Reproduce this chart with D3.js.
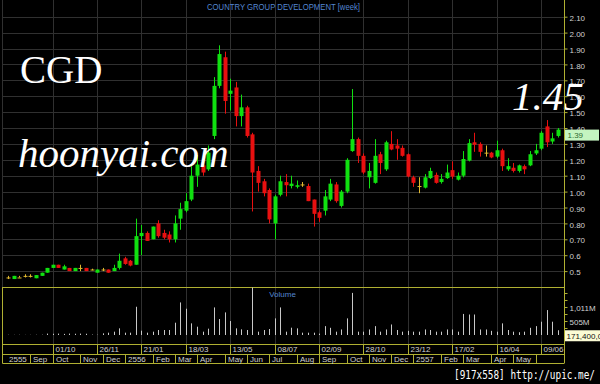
<!DOCTYPE html>
<html><head><meta charset="utf-8">
<script src="https://cdn.jsdelivr.net/npm/d3@7"></script>
<style>html,body{margin:0;padding:0;background:#000;}svg{display:block;}</style>
</head><body>
<svg id="chart" width="600" height="384"></svg>
<script>
// ---------- DATA ----------
const title = "COUNTRY GROUP DEVELOPMENT [week]";
const weekCount = 100; // weekly bars, Aug 2012 .. Jun 2014
const openP = [
 0.46,0.45,0.46,0.47,0.47,0.455,0.47,0.49,0.52,0.54,
 0.51,0.52,0.50,0.52,0.52,0.51,0.49,0.51,0.51,0.50,
 0.52,0.58,0.565,0.54,0.72,0.74,0.70,0.80,0.74,0.73,
 0.70,0.83,0.88,0.95,1.10,1.165,1.14,1.35,1.665,1.845,
 1.615,1.655,1.475,1.53,1.36,1.13,1.065,1.01,0.80,0.98,
 1.06,1.035,1.03,1.045,1.035,0.95,0.87,0.88,0.95,1.045,
 0.91,1.00,1.255,1.33,1.225,1.09,1.055,1.235,1.14,1.30,
 1.29,1.275,1.235,1.09,1.035,1.025,1.085,1.105,1.06,1.085,
 1.135,1.075,1.10,1.195,1.31,1.30,1.245,1.245,1.22,1.26,
 1.14,1.15,1.13,1.16,1.165,1.24,1.27,1.41,1.315,1.35];
const highP = [
 0.47,0.47,0.47,0.48,0.48,0.475,0.49,0.52,0.54,0.54,
 0.54,0.52,0.52,0.54,0.52,0.515,0.51,0.52,0.51,0.54,
 0.61,0.59,0.57,0.83,0.79,0.75,0.78,0.82,0.76,0.75,
 0.85,0.93,0.99,1.16,1.23,1.18,1.29,1.72,1.92,1.88,
 1.71,1.69,1.61,1.54,1.37,1.16,1.08,1.02,0.98,1.10,
 1.11,1.10,1.07,1.06,1.05,0.95,0.88,1.01,1.08,1.06,
 1.01,1.21,1.645,1.34,1.24,1.18,1.33,1.25,1.32,1.38,
 1.33,1.29,1.24,1.10,1.09,1.11,1.15,1.12,1.11,1.17,
 1.19,1.12,1.255,1.33,1.37,1.31,1.29,1.25,1.32,1.27,
 1.21,1.18,1.17,1.17,1.255,1.30,1.38,1.45,1.37,1.40];
const lowP = [
 0.45,0.45,0.46,0.46,0.46,0.455,0.47,0.49,0.52,0.52,
 0.51,0.50,0.50,0.50,0.50,0.505,0.49,0.50,0.49,0.50,
 0.51,0.54,0.53,0.54,0.60,0.69,0.70,0.71,0.70,0.68,
 0.68,0.76,0.87,0.94,1.03,1.10,1.13,1.33,1.65,1.49,
 1.51,1.41,1.41,1.34,0.875,1.00,0.97,0.80,0.70,0.97,
 0.97,1.02,1.02,1.03,0.94,0.78,0.81,0.85,0.94,0.93,
 0.90,0.99,1.25,1.18,1.11,1.02,1.05,1.11,1.13,1.26,
 1.20,1.22,1.09,1.03,0.99,1.02,1.08,1.05,1.05,1.08,
 1.08,1.07,1.09,1.19,1.25,1.22,1.22,1.21,1.21,1.13,
 1.13,1.12,1.12,1.11,1.16,1.23,1.26,1.28,1.30,1.34];
const closeP = [
 0.46,0.47,0.46,0.47,0.47,0.475,0.49,0.52,0.54,0.52,
 0.53,0.50,0.52,0.52,0.50,0.51,0.51,0.51,0.49,0.52,
 0.565,0.545,0.535,0.72,0.74,0.69,0.78,0.72,0.71,0.70,
 0.80,0.89,0.94,1.10,1.17,1.12,1.245,1.665,1.865,1.57,
 1.635,1.475,1.53,1.35,1.12,1.055,0.99,0.825,0.97,1.065,
 1.04,1.05,1.04,1.045,0.94,0.86,0.835,0.97,1.05,0.94,
 1.00,1.20,1.33,1.225,1.12,1.13,1.225,1.18,1.31,1.265,
 1.27,1.225,1.095,1.055,1.035,1.09,1.13,1.055,1.08,1.12,
 1.095,1.10,1.205,1.305,1.295,1.25,1.245,1.215,1.26,1.16,
 1.16,1.13,1.165,1.14,1.235,1.26,1.37,1.31,1.335,1.39];
const volumeM = [
 8,6,8,5,6,8,10,50,45,50,
 40,50,45,50,45,15,10,60,84,120,
 240,84,84,1020,156,84,120,180,180,180,
 444,1176,948,420,300,120,228,996,576,816,
 504,240,204,180,1716,120,180,216,600,996,
 120,264,240,84,84,84,50,320,260,120,
 200,600,1520,120,120,200,320,120,200,380,
 180,120,150,120,120,200,180,120,120,200,
 200,120,760,740,740,200,200,150,120,420,
 180,120,100,120,260,320,480,900,480,171.4];
const priceTicks = [0.5,0.6,0.7,0.8,0.9,1.0,1.1,1.2,1.3,1.4,1.5,1.6,1.7,1.8,1.9,2.0,2.1];
const priceTickLabels = ["0.5","0.6","0.70","0.80","0.90","1.00","1.10","1.20","1.30","1.40","1.50","1.60","1.70","1.80","1.90","2.00","2.10"];
const volTicks = [253,505,758,1011,1264,1516];
const volTickLabels = ["","505M","","1,011M","",""];
const gridWeekIdx = [8,16,24,32,40,48,56,64,72,80,88,96];
const gridDateLabels = ["01/10","26/11","21/01","18/03","13/05","08/07","02/09","28/10","23/12","17/02","16/04","09/06"];
const monthStartIdx = [0,4,8,13,17,21,26,30,34,39,43,47,52,56,61,65,69,73,78,82,87,91,95];
const monthLabels = ["2555","Sep","Oct","Nov","Dec","2556","Feb","Mar","Apr","May","Jun","Jul","Aug","Sep","Oct","Nov","Dec","2557","Feb","Mar","Apr","May",""];
const lastCloseLabel = "1.39";
const lastVolumeLabel = "171,400,000";
const overlayName = "CGD", overlaySite = "hoonyai.com", overlayHigh = "1.45";
const watermark = "[917x558] http://upic.me/";

// ---------- DRAW ----------
const svg = d3.select("#chart");
const W = 600, H = 384;
const axisX = 564.5;
const yellow = "#b0b032", gridC = "#303030", axisText = "#d0d0d0", blueT = "#5486d0";
const idx = d3.range(weekCount);

svg.append("rect").attr("width", W).attr("height", H).attr("fill", "#000");

const x = d3.scaleBand().domain(idx).range([4.5, 561.5]).padding(0.35);
const cx = i => x(i) + x.bandwidth() / 2;
const y = d3.scaleLinear().domain([0.5, 2.1]).range([271.1, 16.7]);
const yv = d3.scaleLinear().domain([0, 1011]).range([335, 307]);

const main = svg.append("g");
main.selectAll("line.hg").data(priceTicks).join("line")
  .attr("x1", 2.5).attr("x2", axisX).attr("y1", d => Math.round(y(d)) + 0.5).attr("y2", d => Math.round(y(d)) + 0.5)
  .attr("stroke", gridC).attr("stroke-width", 1);
main.selectAll("line.vg").data(gridWeekIdx).join("line")
  .attr("x1", d => Math.round(cx(d)) + 0.5).attr("x2", d => Math.round(cx(d)) + 0.5)
  .attr("y1", 0).attr("y2", 344)
  .attr("stroke", gridC).attr("stroke-width", 1);
main.append("line").attr("x1", 2.5).attr("x2", 2.5).attr("y1", 0).attr("y2", 287).attr("stroke", gridC);

svg.append("text").attr("x", 283.5).attr("y", 10).attr("text-anchor", "middle")
  .attr("font-family", "Liberation Sans, Arial, sans-serif").attr("font-size", 8.3)
  .attr("fill", blueT).attr("textLength", 153).attr("lengthAdjust", "spacingAndGlyphs").text(title);

const serif = "Liberation Serif, Times New Roman, serif";
svg.append("text").attr("x", 20).attr("y", 83).attr("font-family", serif).attr("font-size", 39)
  .attr("fill", "#fff").text(overlayName);

const colorOf = i => closeP[i] > openP[i] ? "#10e010" : (closeP[i] < openP[i] ? "#e81010" : "#e0b830");
const cg = svg.append("g");
cg.selectAll("line.wick").data(idx).join("line")
  .attr("x1", i => Math.round(cx(i)) + 0.5).attr("x2", i => Math.round(cx(i)) + 0.5)
  .attr("y1", i => y(highP[i])).attr("y2", i => y(lowP[i]))
  .attr("stroke", colorOf).attr("stroke-width", 1);
cg.selectAll("rect.body").data(idx).join("rect")
  .attr("x", i => Math.round(cx(i)) - 1.5).attr("width", 4)
  .attr("y", i => y(Math.max(openP[i], closeP[i])))
  .attr("height", i => Math.max(1, Math.abs(y(openP[i]) - y(closeP[i]))))
  .attr("fill", colorOf);

svg.append("text").attr("x", 18).attr("y", 167).attr("font-family", serif).attr("font-style", "italic")
  .attr("font-size", 41).attr("fill", "#fff").text(overlaySite);
svg.append("text").attr("x", 512).attr("y", 110).attr("font-family", serif).attr("font-style", "italic")
  .attr("font-size", 41).attr("fill", "#fff").text(overlayHigh);

const pAxis = d3.axisRight(y).tickValues(priceTicks).tickFormat((d, k) => priceTickLabels[k]).tickSize(3).tickPadding(2);
const pa = svg.append("g").attr("transform", `translate(${axisX},0)`).call(pAxis);
pa.select(".domain").remove();
pa.selectAll("line").attr("stroke", yellow);
pa.selectAll("text").attr("fill", axisText).attr("font-family", "Liberation Sans, Arial, sans-serif").attr("font-size", 8).attr("dy", "0.45em");
svg.append("line").attr("x1", axisX).attr("x2", axisX).attr("y1", 0).attr("y2", 363).attr("stroke", yellow);

svg.append("rect").attr("x", axisX + 0.5).attr("y", y(closeP[weekCount - 1])).attr("width", 34).attr("height", 11).attr("fill", "#c4f4c0");
svg.append("text").attr("x", axisX + 3).attr("y", y(closeP[weekCount - 1]) + 8.5)
  .attr("font-family", "Liberation Sans, Arial, sans-serif").attr("font-size", 8).attr("fill", "#2f6a2f").text(lastCloseLabel);

svg.append("line").attr("x1", 2.5).attr("x2", axisX).attr("y1", 287.5).attr("y2", 287.5).attr("stroke", yellow);
svg.append("text").attr("x", 282.5).attr("y", 297).attr("text-anchor", "middle")
  .attr("font-family", "Liberation Sans, Arial, sans-serif").attr("font-size", 8).attr("fill", blueT).text("Volume");
svg.append("g").selectAll("line").data(idx).join("line")
  .attr("x1", i => Math.round(cx(i)) + 0.5).attr("x2", i => Math.round(cx(i)) + 0.5)
  .attr("y1", yv(0)).attr("y2", i => yv(volumeM[i]))
  .attr("stroke", "#c8c8c8").attr("stroke-width", 1);
const vAxis = d3.axisRight(yv).tickValues(volTicks).tickFormat((d, k) => volTickLabels[k]).tickSize(3).tickPadding(2);
const va = svg.append("g").attr("transform", `translate(${axisX},0)`).call(vAxis);
va.select(".domain").remove();
va.selectAll("line").attr("stroke", yellow);
va.selectAll("text").attr("fill", axisText).attr("font-family", "Liberation Sans, Arial, sans-serif").attr("font-size", 8).attr("dy", "0.4em");
svg.append("rect").attr("x", axisX + 0.5).attr("y", yv(volumeM[weekCount - 1])).attr("width", 36).attr("height", 11).attr("fill", "#fbfbd4");
svg.append("text").attr("x", axisX + 2).attr("y", yv(volumeM[weekCount - 1]) + 8.5)
  .attr("font-family", "Liberation Sans, Arial, sans-serif").attr("font-size", 8).attr("fill", "#111").text(lastVolumeLabel);

const rows = svg.append("g");
[344.5, 354.5, 363.5].forEach(yy => rows.append("line").attr("x1", 2.5).attr("x2", axisX).attr("y1", yy).attr("y2", yy).attr("stroke", yellow));
rows.append("line").attr("x1", 2.5).attr("x2", 2.5).attr("y1", 287).attr("y2", 363.5).attr("stroke", yellow);
const sepX = i => Math.round(cx(i)) + 0.5;
rows.selectAll("line.r1").data(gridWeekIdx).join("line")
  .attr("x1", sepX).attr("x2", sepX).attr("y1", 344.5).attr("y2", 354.5).attr("stroke", yellow);
rows.selectAll("text.r1").data(gridWeekIdx).join("text")
  .attr("x", i => sepX(i) + 2).attr("y", 352)
  .attr("font-family", "Liberation Sans, Arial, sans-serif").attr("font-size", 8).attr("fill", axisText)
  .text((d, k) => gridDateLabels[k]);
rows.selectAll("line.r2").data(monthStartIdx.slice(1)).join("line")
  .attr("x1", sepX).attr("x2", sepX).attr("y1", 354.5).attr("y2", 363.5).attr("stroke", yellow);
rows.selectAll("text.r2").data(monthStartIdx).join("text")
  .attr("x", (d, k) => (k === 0 ? 6.5 : sepX(d)) + 2.5).attr("y", 361.5)
  .attr("font-family", "Liberation Sans, Arial, sans-serif").attr("font-size", 8).attr("fill", axisText)
  .text((d, k) => monthLabels[k]);

svg.append("text").attr("x", 454).attr("y", 379).attr("font-family", "DejaVu Sans Mono, monospace")
  .attr("font-size", 12).attr("fill", "#fff").attr("textLength", 141).attr("lengthAdjust", "spacingAndGlyphs").text(watermark);
</script>
</body></html>
